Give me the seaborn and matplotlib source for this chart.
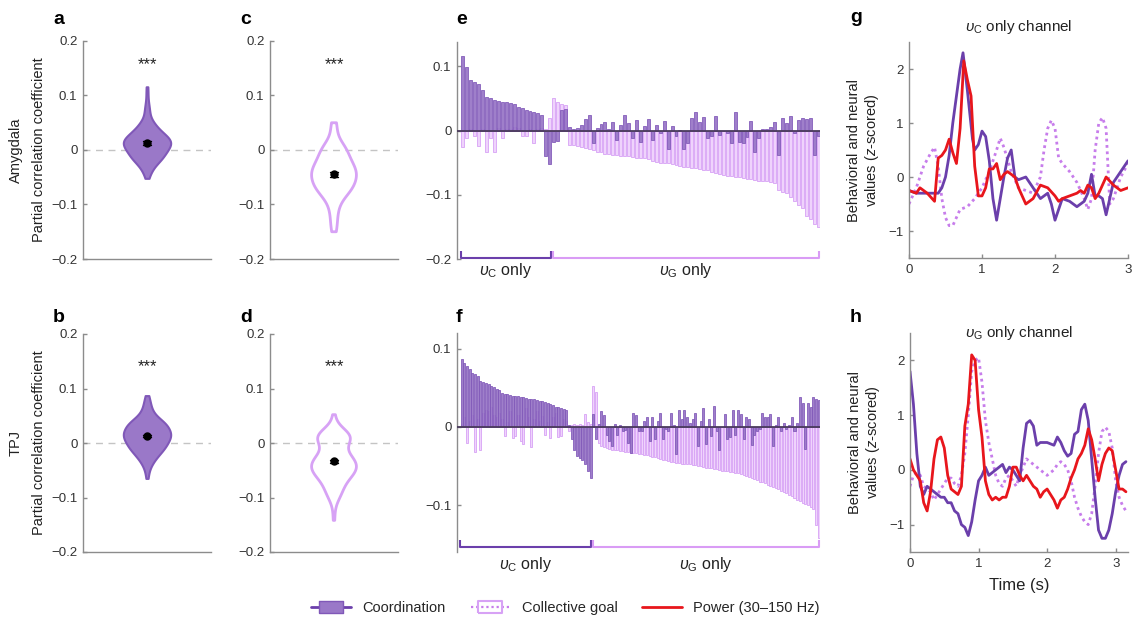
import matplotlib
matplotlib.use("Agg")
import matplotlib.pyplot as plt
from matplotlib.lines import Line2D
import matplotlib.transforms as mtrans
import seaborn as sns

# ---- panel e: amygdala channels (vC-only channels first, then vG-only) ----
amy_coord_vc = [0.116, 0.099, 0.079, 0.076, 0.073, 0.0625, 0.052, 0.0505, 0.047, 0.046,
                0.045, 0.044, 0.043, 0.042, 0.036, 0.035, 0.032, 0.030, 0.029, 0.027,
                0.0245, -0.040, -0.052]
amy_goal_vc = [-0.025, -0.012, 0.003, -0.008, -0.024, 0.002, -0.033, -0.012, -0.033, 0.004,
               -0.011, 0.003, 0.002, 0.005, 0.004, -0.008, -0.008, 0.002, -0.020, 0.003,
               0.004, 0.002, 0.019]
amy_coord_vg = [-0.018, -0.016, 0.032, 0.034, 0.005, 0.002, 0.004, 0.008, 0.018, 0.024,
                -0.020, 0.004, 0.010, 0.014, 0.003, 0.013, -0.015, 0.008, 0.024, 0.012,
                -0.012, 0.017, -0.017, 0.007, 0.018, -0.015, 0.009, -0.004, 0.015, -0.028,
                0.007, -0.008, 0.001, -0.028, -0.020, 0.020, 0.029, 0.014, 0.021, -0.011,
                -0.009, 0.022, -0.007, 0.000, -0.003, -0.020, 0.029, -0.017, -0.020, -0.010,
                0.015, -0.034, -0.012, 0.003, 0.003, 0.005, 0.014, -0.038, 0.020, 0.012,
                0.022, -0.004, 0.016, 0.019, 0.018, 0.020, -0.038, -0.008]
amy_goal_vg = [0.050, 0.045, 0.042, 0.040,
               -0.022, -0.023, -0.024, -0.025, -0.027, -0.029, -0.031, -0.033, -0.034, -0.036,
               -0.037, -0.038, -0.038, -0.039, -0.040, -0.040, -0.041, -0.042, -0.042, -0.043,
               -0.045, -0.047, -0.049, -0.050, -0.051, -0.051, -0.052, -0.053, -0.055, -0.056,
               -0.057, -0.058, -0.059, -0.060, -0.061, -0.062, -0.064, -0.066, -0.068, -0.069,
               -0.070, -0.071, -0.072, -0.073, -0.074, -0.075, -0.076, -0.077, -0.078, -0.078,
               -0.079, -0.080, -0.081, -0.093, -0.095, -0.097, -0.104, -0.110, -0.116, -0.121,
               -0.133, -0.138, -0.145, -0.150]

# ---- panel f: TPJ channels ----
tpj_coord_vc = [0.087, 0.082, 0.078, 0.074, 0.069, 0.067, 0.065, 0.058, 0.057, 0.056,
                0.055, 0.052, 0.051, 0.048, 0.047, 0.043, 0.042, 0.042, 0.041, 0.040,
                0.039, 0.039, 0.038, 0.038, 0.037, 0.036, 0.035, 0.035, 0.034, 0.033,
                0.033, 0.032, 0.031, 0.029, 0.028, 0.026, 0.025, 0.024, 0.023, 0.022,
                0.002, -0.015, -0.030, -0.037, -0.040, -0.042, -0.048, -0.056, -0.065]
tpj_goal_vc = [0.004, 0.012, -0.021, 0.008, 0.015, -0.032, 0.010, -0.029, 0.018, 0.022,
               0.020, 0.026, 0.015, 0.012, 0.018, 0.010, -0.012, 0.006, 0.020, -0.014,
               -0.012, 0.015, -0.018, -0.022, 0.024, 0.012, -0.026, 0.010, 0.020, 0.008,
               0.014, -0.010, 0.006, -0.014, 0.012, 0.018, -0.013, -0.012, 0.010, 0.008,
               -0.005, 0.003, 0.004, 0.002, 0.004, 0.003, 0.017, 0.006, 0.004]
tpj_coord_vg = [0.017, -0.015, 0.004, 0.020, 0.015, -0.010, -0.018, -0.025, 0.004, -0.010,
                0.003, -0.005, -0.004, -0.020, -0.033, 0.018, 0.015, -0.005, -0.005, 0.008,
                0.013, -0.018, 0.012, -0.015, 0.007, 0.018, -0.015, -0.003, -0.005, 0.018,
                0.003, -0.035, 0.022, 0.010, 0.022, 0.012, 0.005, 0.010, 0.018, -0.025,
                0.008, 0.024, -0.022, 0.010, -0.012, 0.027, -0.005, -0.030, 0.000, 0.017,
                -0.015, -0.013, 0.022, -0.010, 0.022, 0.017, -0.015, 0.013, 0.010, -0.023,
                -0.010, -0.005, -0.003, 0.018, 0.012, 0.013, 0.016, -0.025, 0.002, 0.012,
                -0.005, 0.005, -0.003, 0.003, 0.012, -0.005, 0.005, 0.038, 0.030, -0.028,
                0.030, 0.025, 0.038, 0.035, 0.034]
tpj_goal_vg = [0.052, 0.045,
               -0.021, -0.024, -0.026, -0.027, -0.028, -0.029,
               -0.030, -0.030, -0.031, -0.031, -0.032, -0.032, -0.033, -0.033, -0.034, -0.035,
               -0.035, -0.036, -0.036, -0.037, -0.038, -0.039, -0.040, -0.041, -0.042, -0.043,
               -0.044, -0.045,
               -0.045, -0.046, -0.046, -0.047, -0.047, -0.048, -0.048, -0.049, -0.049, -0.050,
               -0.050, -0.051, -0.052,
               -0.052, -0.053, -0.054, -0.054, -0.055, -0.056, -0.056, -0.057, -0.058, -0.058,
               -0.059, -0.059, -0.060,
               -0.062, -0.063, -0.064, -0.066, -0.067, -0.068, -0.070, -0.071, -0.072, -0.074,
               -0.075, -0.077,
               -0.078, -0.080, -0.082, -0.083, -0.085, -0.087, -0.089, -0.091, -0.093, -0.095,
               -0.097, -0.099, -0.100, -0.102, -0.105, -0.125, -0.142]

# ---- panel g: vC-only channel time courses ----
g_coord_t = [0, 0.1, 0.2, 0.3, 0.4, 0.45, 0.5, 0.55, 0.6, 0.65, 0.7, 0.74, 0.8, 0.87, 0.9,
             0.95, 1.0, 1.05, 1.1, 1.15, 1.2, 1.25, 1.3, 1.35, 1.4, 1.45, 1.5, 1.6, 1.7, 1.8,
             1.9, 1.95, 2.0, 2.05, 2.1, 2.2, 2.3, 2.4, 2.45, 2.5, 2.55, 2.6, 2.65, 2.7, 2.75,
             2.8, 2.9, 3.0]
g_coord_v = [-0.25, -0.3, -0.3, -0.3, -0.3, -0.2, 0.0, 0.4, 1.0, 1.5, 2.0, 2.3, 1.6, 0.7, 0.5,
             0.6, 0.85, 0.75, 0.3, -0.4, -0.8, -0.4, 0.0, 0.35, 0.5, 0.0, -0.05, 0.0, -0.2, -0.4,
             -0.3, -0.5, -0.8, -0.6, -0.4, -0.45, -0.55, -0.45, -0.3, 0.05, -0.35, -0.35, -0.4,
             -0.7, -0.4, -0.1, 0.1, 0.3]
g_goal_t = [0, 0.1, 0.2, 0.3, 0.35, 0.4, 0.45, 0.5, 0.55, 0.6, 0.7, 0.8, 0.9, 1.0, 1.1, 1.2,
            1.25, 1.3, 1.4, 1.5, 1.6, 1.7, 1.8, 1.85, 1.9, 1.95, 2.0, 2.05, 2.1, 2.2, 2.3, 2.4,
            2.45, 2.5, 2.55, 2.6, 2.65, 2.7, 2.75, 2.8, 2.9, 3.0]
g_goal_v = [-0.5, -0.2, 0.2, 0.45, 0.55, 0.2, -0.4, -0.75, -0.9, -0.9, -0.6, -0.55, -0.4, -0.2,
            0.1, 0.5, 0.72, 0.55, 0.1, -0.2, -0.25, -0.3, 0.0, 0.5, 0.9, 1.05, 0.9, 0.35, 0.25,
            0.1, -0.1, -0.4, -0.6, -0.4, 0.5, 1.0, 1.1, 0.9, -0.5, -0.4, 0.0, 0.25]
g_power_t = [0, 0.1, 0.15, 0.25, 0.35, 0.4, 0.45, 0.5, 0.55, 0.6, 0.65, 0.7, 0.75, 0.8, 0.85,
             0.9, 0.95, 1.0, 1.05, 1.1, 1.15, 1.2, 1.25, 1.3, 1.35, 1.45, 1.5, 1.6, 1.7, 1.8,
             1.9, 2.0, 2.05, 2.1, 2.2, 2.3, 2.35, 2.4, 2.45, 2.5, 2.55, 2.6, 2.7, 2.8, 2.9, 3.0]
g_power_v = [-0.25, -0.3, -0.2, -0.3, -0.45, 0.35, 0.4, 0.5, 0.7, 0.45, 0.25, 0.9, 2.15, 1.8,
             1.5, 0.2, -0.35, -0.35, -0.2, 0.15, 0.15, 0.25, -0.05, 0.05, 0.1, 0.0, -0.2, -0.5,
             -0.4, -0.15, -0.2, -0.35, -0.45, -0.4, -0.35, -0.3, -0.25, -0.3, -0.15, -0.2, -0.4,
             -0.3, 0.0, -0.15, -0.25, -0.2]

# ---- panel h: vG-only channel time courses ----
h_coord_t = [0, 0.05, 0.1, 0.15, 0.2, 0.25, 0.3, 0.35, 0.4, 0.45, 0.5, 0.55, 0.6, 0.65, 0.7,
             0.75, 0.8, 0.85, 0.9, 0.95, 1.0, 1.05, 1.1, 1.15, 1.2, 1.3, 1.35, 1.4, 1.45, 1.5,
             1.55, 1.6, 1.65, 1.7, 1.75, 1.8, 1.85, 1.9, 2.0, 2.1, 2.15, 2.2, 2.25, 2.3, 2.35,
             2.4, 2.45, 2.5, 2.55, 2.6, 2.65, 2.7, 2.75, 2.8, 2.85, 2.9, 2.95, 3.0, 3.05, 3.1,
             3.15]
h_coord_v = [1.8, 1.2, 0.3, -0.3, -0.45, -0.3, -0.35, -0.4, -0.45, -0.5, -0.5, -0.6, -0.6,
             -0.75, -0.8, -1.0, -1.05, -1.2, -0.95, -0.55, -0.2, -0.1, 0.05, -0.1, -0.05, 0.05,
             0.1, -0.05, 0.05, 0.0, -0.1, -0.2, 0.4, 0.85, 0.9, 0.8, 0.45, 0.5, 0.5, 0.45, 0.6,
             0.5, 0.35, 0.25, 0.3, 0.65, 0.7, 1.1, 1.2, 0.9, 0.2, -0.5, -1.1, -1.25, -1.25, -1.1,
             -0.8, -0.4, -0.1, 0.1, 0.15]
h_time = [0, 0.05, 0.1, 0.15, 0.2, 0.25, 0.3, 0.35, 0.4, 0.45, 0.5, 0.55, 0.6, 0.65, 0.7,
          0.75, 0.8, 0.85, 0.9, 0.95, 1.0, 1.05, 1.1, 1.15, 1.2, 1.25, 1.3, 1.35, 1.4, 1.45,
          1.5, 1.55, 1.6, 1.65, 1.7, 1.75, 1.8, 1.85, 1.9, 1.95, 2.0, 2.05, 2.1, 2.15, 2.2,
          2.25, 2.3, 2.35, 2.4, 2.45, 2.5, 2.55, 2.6, 2.65, 2.7, 2.75, 2.8, 2.85, 2.9, 2.95,
          3.0, 3.05, 3.1, 3.15]
h_goal_v = [-0.3, -0.1, -0.05, -0.1, -0.3, -0.35, -0.4, -0.55, -0.45, -0.35, -0.25, -0.15,
            -0.15, -0.25, -0.3, -0.1, 0.3, 1.0, 1.8, 2.0, 2.05, 1.6, 0.9, 0.5, 0.2, -0.1, -0.25,
            -0.3, -0.15, -0.1, -0.2, -0.3, -0.1, 0.05, 0.2, 0.15, 0.1, 0.05, 0.0, -0.05, -0.1,
            -0.05, 0.0, 0.1, 0.15, 0.1, 0.0, -0.2, -0.5, -0.7, -0.85, -0.95, -1.0, -0.8, -0.3,
            0.3, 0.7, 0.78, 0.7, 0.4, -0.2, -0.5, -0.65, -0.75]
h_power_v = [0.2, 0.0, -0.1, -0.2, -0.6, -0.75, -0.4, 0.2, 0.55, 0.6, 0.4, -0.1, -0.35, -0.4,
             -0.45, -0.3, 0.8, 1.2, 2.1, 2.0, 1.1, 0.6, -0.2, -0.45, -0.55, -0.5, -0.55, -0.5,
             -0.5, -0.3, 0.05, 0.05, -0.1, -0.2, -0.1, -0.2, -0.3, -0.35, -0.5, -0.4, -0.35,
             -0.45, -0.55, -0.7, -0.55, -0.5, -0.35, -0.15, 0.0, 0.2, 0.3, 0.45, 0.75, 0.55, 0.2,
             -0.2, 0.1, 0.3, 0.4, 0.35, 0.0, -0.35, -0.35, -0.4]

# colours
COORD_LINE = "#6b3fab"
COORD_FILL = "#9a78c8"
COORD_EDGE = "#8058b8"
GOAL_FILL = "#efd3fc"
GOAL_EDGE = "#d7a2f5"
GOAL_LINE = "#c77deb"
POWER = "#e8161c"
SPINE = "#8c8c8c"
TXT = "#333333"

sns.set_theme(style="ticks")
plt.rcParams["font.family"] = ["Liberation Sans", "DejaVu Sans"]
plt.rcParams["mathtext.fontset"] = "custom"
plt.rcParams["mathtext.rm"] = "Liberation Sans"
plt.rcParams["mathtext.it"] = "Liberation Sans:italic"

W, H = 1138, 626
fig = plt.figure(figsize=(W / 100, H / 100), dpi=100)


def add_ax(l, r, t, b):
    return fig.add_axes([l / W, 1 - b / H, (r - l) / W, (b - t) / H])


def fmt(v):
    return "0" if abs(v) < 1e-9 else f"{v:g}".replace("-", "\u2212")


def style(ax, bottom=True):
    sns.despine(ax=ax, bottom=not bottom)
    for s in ["left", "bottom"]:
        ax.spines[s].set_color(SPINE)
        ax.spines[s].set_linewidth(1)
    ax.tick_params(direction="in", length=3, width=1, color=SPINE,
                   labelsize=9.5, labelcolor=TXT, pad=4)
    ax.set_xlabel("")
    ax.set_ylabel("")


def violin_panel(ax, vals, filled, stars_y):
    ax.axhline(0, color="#c4c4c4", lw=1, ls=(0, (5, 4)), zorder=0)
    if filled:
        sns.violinplot(y=vals, ax=ax, color=COORD_FILL, linecolor=COORD_EDGE, linewidth=1.5,
                       inner=None, cut=0, width=0.37, saturation=1)
    else:
        sns.violinplot(y=vals, ax=ax, color=GOAL_EDGE, fill=False, linewidth=2,
                       inner=None, cut=0, width=0.35)
    sns.pointplot(y=vals, ax=ax, errorbar="se", color="black", markers="o",
                  markersize=4, capsize=0.07, err_kws={"linewidth": 1})
    ax.text(0, stars_y, "***", ha="center", va="center", fontsize=12, color="#222222")
    ax.set_xlim(-0.5, 0.5)
    ax.set_ylim(-0.2, 0.2)
    ax.set_xticks([])
    yt = [-0.2, -0.1, 0, 0.1, 0.2]
    ax.set_yticks(yt)
    ax.set_yticklabels([fmt(v) for v in yt])
    style(ax)


def bar_panel(ax, coord_vc, goal_vc, coord_vg, goal_vg, ylim, yticks, y_br, h_br, x_left):
    coord = coord_vc + coord_vg
    goal = goal_vc + goal_vg
    idx = list(range(len(coord)))
    sns.barplot(x=idx, y=goal, ax=ax, native_scale=True, width=0.75, color=GOAL_FILL,
                edgecolor=GOAL_EDGE, linewidth=0.6, saturation=1, errorbar=None)
    sns.barplot(x=idx, y=coord, ax=ax, native_scale=True, width=0.75, color=COORD_FILL,
                edgecolor=COORD_EDGE, linewidth=0.6, saturation=1, errorbar=None, alpha=0.95)
    ax.axhline(0, color="#4a3b5c", lw=1.3, zorder=5)
    n_c, n = len(coord_vc), len(coord)
    # brackets marking the two channel groups
    for x0, x1, col, lab in [(-0.6, n_c - 0.7, COORD_LINE, r"$\upsilon_{\mathrm{C}}$ only"),
                             (n_c - 0.2, n - 0.8, "#d99cf5", r"$\upsilon_{\mathrm{G}}$ only")]:
        ax.plot([x0, x0, x1, x1], [y_br + h_br, y_br, y_br, y_br + h_br], color=col, lw=1.5,
                clip_on=False, solid_capstyle="butt")
        tr = mtrans.blended_transform_factory(ax.transData, ax.transAxes)
        ax.text((x0 + x1) / 2, -0.055, lab, transform=tr, ha="center", va="center",
                fontsize=11.5, color="#222222")
    ax.set_xlim(x_left, n - 0.5)
    ax.set_ylim(*ylim)
    ax.set_xticks([])
    ax.set_yticks(yticks)
    ax.set_yticklabels([fmt(v) for v in yticks])
    style(ax, bottom=False)


def trace_panel(ax, series, xlim, title, title_y):
    for t, v, col, ls in series:
        sns.lineplot(x=t, y=v, ax=ax, color=col, lw=2, ls=ls, estimator=None, sort=False)
    ax.set_xlim(*xlim)
    ax.set_ylim(-1.5, 2.5)
    ax.set_xticks([0, 1, 2, 3])
    ax.set_xticklabels(["0", "1", "2", "3"])
    yt = [-1, 0, 1, 2]
    ax.set_yticks(yt)
    ax.set_yticklabels([fmt(v) for v in yt])
    style(ax)
    ax.set_ylabel("Behavioral and neural\nvalues ($z$-scored)", fontsize=10.5,
                  linespacing=1.15, color="#222222")
    ax.yaxis.set_label_coords(-0.13, 0.5)
    ax.text(0.5, title_y, title, transform=ax.transAxes, ha="center", va="center",
            fontsize=11, color="#222222")


ax_a = add_ax(83, 211, 41, 259)
ax_c = add_ax(270, 398, 41, 259)
ax_e = add_ax(457, 820, 42, 259)
ax_g = add_ax(909, 1128, 42, 258)
ax_b = add_ax(83, 211, 334, 552)
ax_d = add_ax(270, 398, 334, 552)
ax_f = add_ax(457, 820, 333, 552)
ax_h = add_ax(910, 1128, 333, 552)

violin_panel(ax_a, amy_coord_vc + amy_coord_vg, True, 0.156)
violin_panel(ax_c, amy_goal_vc + amy_goal_vg, False, 0.156)
violin_panel(ax_b, tpj_coord_vc + tpj_coord_vg, True, 0.141)
violin_panel(ax_d, tpj_goal_vc + tpj_goal_vg, False, 0.141)

for ax, region in [(ax_a, "Amygdala"), (ax_b, "TPJ")]:
    ax.set_ylabel(f"{region}\nPartial correlation coefficient", fontsize=10.5,
                  linespacing=1.8, color="#222222")
    ax.yaxis.set_label_coords(-0.29, 0.5)

bar_panel(ax_e, amy_coord_vc, amy_goal_vc, amy_coord_vg, amy_goal_vg,
          (-0.2, 0.138), [-0.2, -0.1, 0, 0.1], -0.198, 0.011, -1.5)
bar_panel(ax_f, tpj_coord_vc, tpj_goal_vc, tpj_coord_vg, tpj_goal_vg,
          (-0.16, 0.12), [-0.1, 0, 0.1], -0.154, 0.009, -1.75)

dots = (0, (1, 1.3))
trace_panel(ax_g, [(g_goal_t, g_goal_v, GOAL_LINE, dots),
                   (g_coord_t, g_coord_v, COORD_LINE, "-"),
                   (g_power_t, g_power_v, POWER, "-")],
            (0, 3), r"$\upsilon_{\mathrm{C}}$ only channel", 1.07)
trace_panel(ax_h, [(h_time, h_goal_v, GOAL_LINE, dots),
                   (h_coord_t, h_coord_v, COORD_LINE, "-"),
                   (h_time, h_power_v, POWER, "-")],
            (0, 3.18), r"$\upsilon_{\mathrm{G}}$ only channel", 1.0)
ax_h.set_xlabel("Time (s)", fontsize=12, color="#222222", labelpad=6)

# panel letters
for letter, x, y in [("a", 53, 24), ("c", 240, 24), ("e", 456, 24), ("g", 850, 22),
                     ("b", 53, 322), ("d", 240, 322), ("f", 456, 322), ("h", 850, 322)]:
    fig.text(x / W, 1 - y / H, letter, fontsize=14, fontweight="bold", ha="left",
             va="baseline", color="black")

# legend
box = [(-1, -0.5), (1, -0.5), (1, 0.5), (-1, 0.5), (-1, -0.5)]
handles = [
    Line2D([], [], color=COORD_LINE, lw=2, marker=box, markersize=17,
           markerfacecolor=COORD_FILL, markeredgecolor=COORD_EDGE),
    Line2D([], [], color=GOAL_LINE, lw=1.6, ls=dots, marker=box, markersize=17,
           markerfacecolor="none", markeredgecolor=GOAL_EDGE, markeredgewidth=1.5),
    Line2D([], [], color=POWER, lw=2),
]
fig.legend(handles, ["Coordination", "Collective goal", "Power (30\u2013150 Hz)"],
           loc="center", bbox_to_anchor=(0.497, 1 - 608 / H), ncol=3, frameon=False,
           fontsize=10.5, handlelength=2.7, handletextpad=0.8, columnspacing=1.7,
           numpoints=1)

fig.savefig("out.png", dpi=100)
